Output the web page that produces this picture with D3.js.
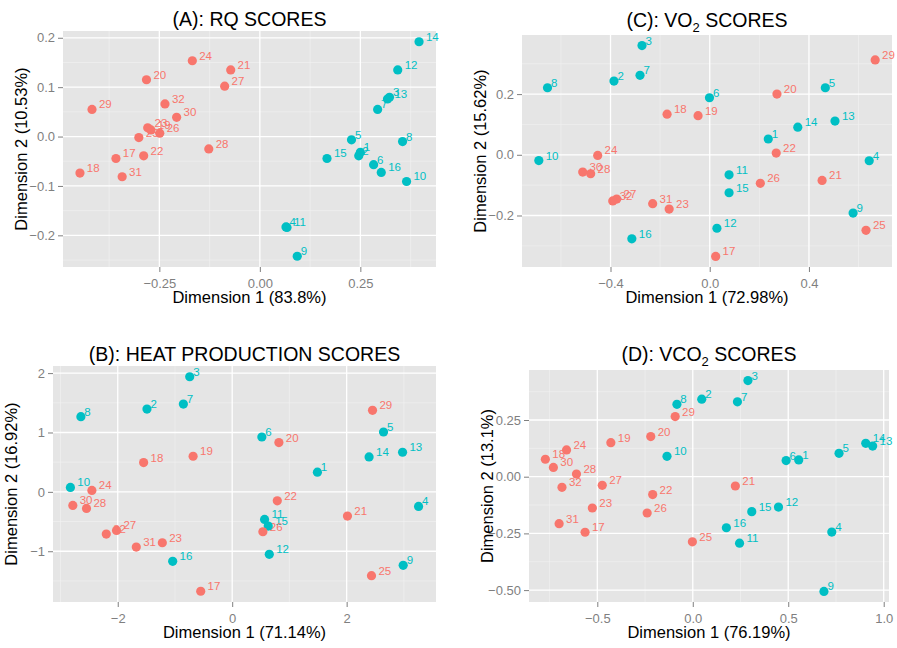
<!DOCTYPE html>
<html>
<head>
<meta charset="utf-8">
<script src="https://cdn.jsdelivr.net/npm/d3@7"></script>
<style>
  body { margin: 0; background: #fff; }
  svg text { font-family: "Liberation Sans", Arial, Helvetica, sans-serif; }
</style>
</head>
<body>
<svg id="chart" width="897" height="648"></svg>
<script>
// subjects and their group (1-16 teal, 17-32 red)
const subjects = ["1","2","3","4","5","6","7","8","9","10","11","12","13","14","15","16",
                  "17","18","19","20","21","22","23","24","25","26","27","28","29","30","31","32"];
const groups = ["a","a","a","a","a","a","a","a","a","a","a","a","a","a","a","a",
                "b","b","b","b","b","b","b","b","b","b","b","b","b","b","b","b"];

// (A) RQ scores
const rqX = [0.250, 0.246, 0.3225, 0.065, 0.228, 0.283, 0.293, 0.355, 0.093, 0.365, 0.0675, 0.343, 0.3175, 0.396, 0.167, 0.302,
             -0.358, -0.4475, -0.271, -0.282, -0.0725, -0.289, -0.279, -0.168, -0.301, -0.249, -0.0875, -0.127, -0.4175, -0.207, -0.3425, -0.236];
const rqY = [-0.032, -0.039, 0.0796, -0.183, -0.0067, -0.057, 0.055, -0.0101, -0.2424, -0.091, -0.184, 0.135, 0.076, 0.192, -0.0444, -0.0727,
             -0.0444, -0.074, 0.0135, 0.115, 0.135, -0.039, 0.0176, 0.1535, -0.002, 0.0069, 0.102, -0.025, 0.055, 0.039, -0.0814, 0.066];

// (B) heat production scores
const heatX = [1.489, -1.489, -0.742, 3.257, 2.644, 0.518, -0.853, -2.644, 2.988, -2.827, 0.566, 0.648, 2.977, 2.392, 0.630, -1.040,
               -0.550, -1.548, -0.683, 0.816, 2.014, 0.788, -1.221, -2.452, 2.434, 0.536, -2.021, -2.546, 2.452, -2.785, -1.676, -2.200];
const heatY = [0.331, 1.395, 1.939, -0.245, 1.008, 0.924, 1.479, 1.267, -1.237, 0.074, -0.464, -1.052, 0.667, 0.588, -0.576, -1.170,
               -1.674, 0.494, 0.600, 0.830, -0.408, -0.151, -0.857, 0.0235, -1.412, -0.672, -0.649, -0.279, 1.373, -0.229, -0.929, -0.711];

// (C) VO2 scores
const vo2X = [0.236, -0.386, -0.273, 0.643, 0.466, -0.001, -0.281, -0.654, 0.578, -0.689, 0.078, 0.029, 0.505, 0.355, 0.078, -0.314,
              0.024, -0.172, -0.047, 0.271, 0.453, 0.268, -0.1636, -0.4516, 0.630, 0.204, -0.375, -0.480, 0.667, -0.512, -0.230, -0.391];
const vo2Y = [0.052, 0.243, 0.360, -0.0197, 0.221, 0.188, 0.262, 0.221, -0.192, -0.019, -0.066, -0.242, 0.111, 0.091, -0.125, -0.277,
              -0.335, 0.134, 0.129, 0.200, -0.0845, 0.0056, -0.179, -0.002, -0.249, -0.094, -0.146, -0.0625, 0.3125, -0.057, -0.161, -0.152];

// (D) VCO2 scores
const vco2X = [0.555, 0.047, 0.289, 0.728, 0.766, 0.489, 0.234, -0.083, 0.687, -0.135, 0.245, 0.449, 0.942, 0.906, 0.309, 0.176,
               -0.564, -0.772, -0.429, -0.220, 0.223, -0.210, -0.526, -0.661, -0.002, -0.239, -0.474, -0.609, -0.092, -0.730, -0.700, -0.685];
const vco2Y = [0.074, 0.342, 0.424, -0.244, 0.103, 0.071, 0.330, 0.319, -0.506, 0.090, -0.293, -0.134, 0.135, 0.147, -0.154, -0.225,
               -0.245, 0.077, 0.150, 0.177, -0.041, -0.079, -0.138, 0.118, -0.287, -0.160, -0.038, 0.012, 0.265, 0.041, -0.207, -0.047];

// tick values
const rqXTicks = [-0.25, 0, 0.25],      rqYTicks = [-0.2, -0.1, 0, 0.1, 0.2];
const heatXTicks = [-2, 0, 2],          heatYTicks = [-1, 0, 1, 2];
const vo2XTicks = [-0.4, 0, 0.4],       vo2YTicks = [-0.2, 0, 0.2];
const vco2XTicks = [-0.5, 0, 0.5, 1.0], vco2YTicks = [-0.5, -0.25, 0, 0.25];

const colors = { a: "#00BFC4", b: "#F8766D" };

const panels = [
  { title: [["(A): RQ SCORES", 0]], xs: rqX, ys: rqY, xt: rqXTicks, yt: rqYTicks, xf: ".2f", yf: ".1f",
    xLab: "Dimension 1 (83.8%)", yLab: "Dimension 2 (10.53%)", l: 63, t: 31, r: 436, b: 267, ty: 26 },
  { title: [["(B): HEAT PRODUCTION SCORES", 0]], xs: heatX, ys: heatY, xt: heatXTicks, yt: heatYTicks, xf: "d", yf: "d",
    xLab: "Dimension 1 (71.14%)", yLab: "Dimension 2 (16.92%)", l: 53, t: 366, r: 436, b: 602, ty: 361 },
  { title: [["(C): VO", 0], ["2", 1], [" SCORES", 0]], xs: vo2X, ys: vo2Y, xt: vo2XTicks, yt: vo2YTicks, xf: ".1f", yf: ".1f",
    xLab: "Dimension 1 (72.98%)", yLab: "Dimension 2 (15.62%)", l: 522, t: 35, r: 892, b: 267, ty: 27 },
  { title: [["(D): VCO", 0], ["2", 1], [" SCORES", 0]], xs: vco2X, ys: vco2Y, xt: vco2XTicks, yt: vco2YTicks, xf: ".1f", yf: ".2f",
    xLab: "Dimension 1 (76.19%)", yLab: "Dimension 2 (13.1%)", l: 529, t: 370, r: 889, b: 602, ty: 361 }
];

const svg = d3.select("#chart");

// ggplot-like 5% expansion of the data range
function expand(ext) {
  const d = (ext[1] - ext[0]) * 0.05;
  return [ext[0] - d, ext[1] + d];
}

// midpoints between major ticks, plus one step outside each end
function minorTicks(ticks, domain) {
  const step = ticks[1] - ticks[0];
  const out = [];
  for (let v = ticks[0] - step / 2; v <= ticks[ticks.length - 1] + step; v += step) {
    if (v >= domain[0] && v <= domain[1]) out.push(v);
  }
  return out;
}

function drawPanel(p) {
  const x = d3.scaleLinear().domain(expand(d3.extent(p.xs))).range([p.l, p.r]);
  const y = d3.scaleLinear().domain(expand(d3.extent(p.ys))).range([p.b, p.t]);
  const g = svg.append("g");

  g.append("rect")
    .attr("x", p.l).attr("y", p.t)
    .attr("width", p.r - p.l).attr("height", p.b - p.t)
    .attr("fill", "#e5e5e5");

  // minor grid
  g.selectAll(".mx").data(minorTicks(p.xt, x.domain())).enter().append("line")
    .attr("x1", d => x(d)).attr("x2", d => x(d)).attr("y1", p.t).attr("y2", p.b)
    .attr("stroke", "#f2f2f2").attr("stroke-width", 0.6);
  g.selectAll(".my").data(minorTicks(p.yt, y.domain())).enter().append("line")
    .attr("y1", d => y(d)).attr("y2", d => y(d)).attr("x1", p.l).attr("x2", p.r)
    .attr("stroke", "#f2f2f2").attr("stroke-width", 0.6);

  // major grid
  g.selectAll(".gx").data(p.xt).enter().append("line")
    .attr("x1", d => x(d)).attr("x2", d => x(d)).attr("y1", p.t).attr("y2", p.b)
    .attr("stroke", "#fff").attr("stroke-width", 1.3);
  g.selectAll(".gy").data(p.yt).enter().append("line")
    .attr("y1", d => y(d)).attr("y2", d => y(d)).attr("x1", p.l).attr("x2", p.r)
    .attr("stroke", "#fff").attr("stroke-width", 1.3);

  // axes
  const xa = g.append("g").attr("transform", `translate(0,${p.b})`)
    .call(d3.axisBottom(x).tickValues(p.xt).tickFormat(d3.format(p.xf)).tickSizeOuter(0).tickSize(5).tickPadding(7));
  const ya = g.append("g").attr("transform", `translate(${p.l},0)`)
    .call(d3.axisLeft(y).tickValues(p.yt).tickFormat(d3.format(p.yf)).tickSizeOuter(0).tickSize(5).tickPadding(3));
  [xa, ya].forEach(a => {
    a.select(".domain").remove();
    a.selectAll("line").attr("stroke", "#7f7f7f");
    a.selectAll("text").attr("fill", "#7f7f7f").attr("font-size", 13);
  });

  // axis titles
  g.append("text")
    .attr("x", (p.l + p.r) / 2).attr("y", p.b + 36)
    .attr("text-anchor", "middle").attr("font-size", 16.5).attr("fill", "#000")
    .text(p.xLab);
  g.append("text")
    .attr("transform", `translate(${p.l - 36},${(p.t + p.b) / 2}) rotate(-90)`)
    .attr("text-anchor", "middle").attr("font-size", 16.5).attr("fill", "#000")
    .text(p.yLab);

  // panel title (with subscripts)
  const tt = g.append("text")
    .attr("x", (p.l + p.r) / 2).attr("y", p.ty)
    .attr("text-anchor", "middle").attr("font-size", 19.5).attr("fill", "#000");
  let shifted = false;
  p.title.forEach(([s, sub]) => {
    const span = tt.append("tspan").text(s);
    if (sub) { span.attr("font-size", 13).attr("dy", 5); shifted = true; }
    else if (shifted) { span.attr("dy", -5); shifted = false; }
  });

  const rows = subjects.map((s, i) => ({ id: s, grp: groups[i], x: p.xs[i], y: p.ys[i] }));

  // labels (hjust ~ -0.5)
  g.selectAll(".lab").data(rows).enter().append("text")
    .attr("x", d => x(d.x) + 0.3 * 11.5 * d.id.length)
    .attr("y", d => y(d.y) - 1)
    .attr("font-size", 11.5)
    .attr("fill", d => colors[d.grp])
    .text(d => d.id);

  // points
  g.selectAll(".pt").data(rows).enter().append("circle")
    .attr("cx", d => x(d.x)).attr("cy", d => y(d.y)).attr("r", 4.6)
    .attr("fill", d => colors[d.grp]);
}

panels.forEach(drawPanel);
</script>
</body>
</html>
